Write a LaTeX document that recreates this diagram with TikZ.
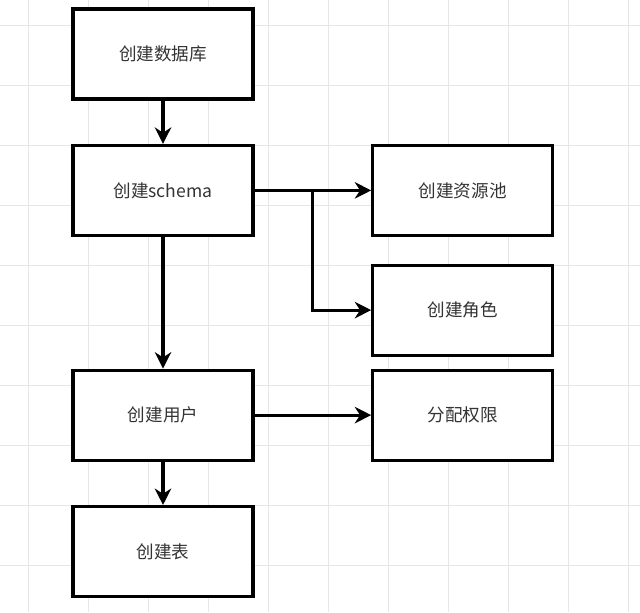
\documentclass[tikz,border=0pt]{standalone}
\usepackage{fontspec}
\newfontfamily\cjkfont{Noto Sans CJK SC}
\usepackage{tikz}
\usetikzlibrary{arrows.meta,positioning}
\definecolor{gridgray}{RGB}{230,230,230}
\definecolor{textgray}{RGB}{51,51,51}

\begin{document}
\begin{tikzpicture}[
    node distance=1.3cm,
    box/.style={rectangle, draw=black, line width=2.6pt, fill=white, minimum width=5.4cm, minimum height=2.7cm, font=\cjkfont\fontsize{15}{18}\selectfont, text=textgray},
    arrow/.style={-{Stealth[length=14pt, width=14pt, inset=4.5pt]}, line width=2.6pt}
]

% Grid background
\begin{scope}[x=0.03cm, y=-0.03cm]
\useasboundingbox (0,0) rectangle (640,612);
\fill[white] (0,0) rectangle (640,612);
\foreach \x in {28,88,...,628} \draw[gridgray, line width=0.6pt] (\x,0) -- (\x,612);
\foreach \y in {25,85,...,565} \draw[gridgray, line width=0.6pt] (0,\y) -- (640,\y);
\end{scope}

% Main column
\node[box] (db) at (4.89,-1.62) {创建数据库};
\node[box, below=of db] (schema) {创建schema};
\node[box, below=3.95cm of schema] (user) {创建用户};
\node[box, below=of user] (table) {创建表};

% Right column
\node[box, right=3.5cm of schema] (pool) {创建资源池};
\node[box, below=0.8cm of pool] (role) {创建角色};
\node[box, right=3.5cm of user] (grant) {分配权限};

% Arrows
\coordinate[right=1.75cm of schema.east] (split);
\draw[arrow] (db) -- (schema);
\draw[arrow] (schema) -- (user);
\draw[arrow] (user) -- (table);
\draw[arrow] (schema) -- (pool);
\draw[arrow] (split) |- (role);
\draw[arrow] (user) -- (grant);

\end{tikzpicture}
\end{document}
